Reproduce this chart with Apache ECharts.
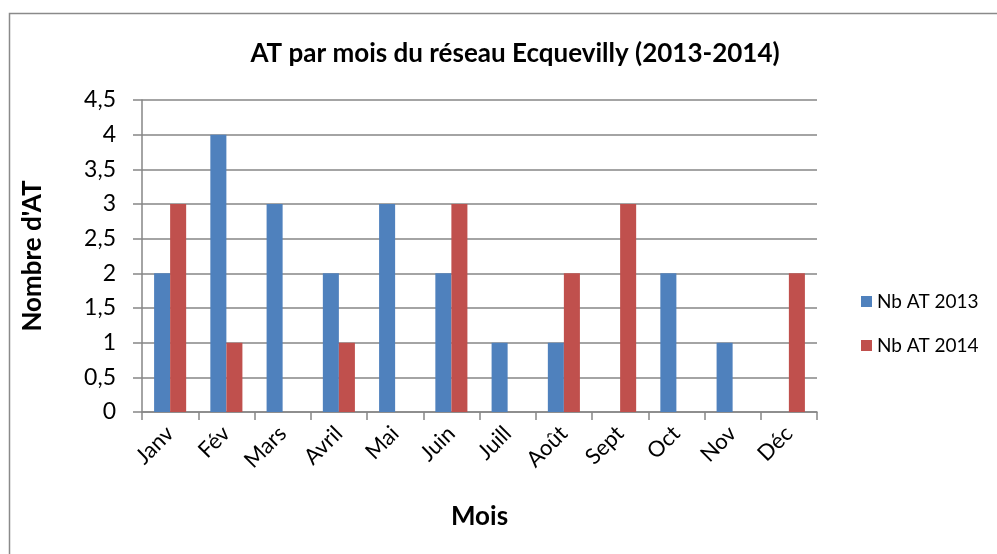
<!DOCTYPE html>
<html><head><meta charset="utf-8">
<script src="https://cdn.jsdelivr.net/npm/echarts@6/dist/echarts.min.js"></script>
<style>html,body{margin:0;padding:0;background:#fff}#c{width:997px;height:554px}</style>
</head><body><div id="c"></div>
<script>
const categories = ['Janv','Fév','Mars','Avril','Mai','Juin','Juill','Août','Sept','Oct','Nov','Déc'];
const nb2013 = [2,4,3,2,3,2,1,1,0,2,1,0];
const nb2014 = [3,1,0,1,0,3,0,2,3,0,0,2];
const seriesNames = ['Nb AT 2013','Nb AT 2014'];
const FONT = 'Lato, "Open Sans", sans-serif';
const chart = echarts.init(document.getElementById('c'));
chart.setOption({
  animation: false,
  color: ['#4F81BD','#C0504D'],
  graphic: [{type:'rect', shape:{x:9.5,y:13.5,width:1000,height:560}, style:{fill:'none', stroke:'#8a8a8a', lineWidth:1.5}, silent:true}],
  title: {text:'AT par mois du réseau Ecquevilly (2013-2014)', left:510, top:36, textAlign:'center',
    textStyle:{fontFamily:FONT, fontWeight:'bold', fontSize:26, color:'#000'}},
  legend: {orient:'vertical', left:856, top:287, itemWidth:11, itemHeight:11, itemGap:25, icon:'rect',
    textStyle:{fontFamily:FONT, fontSize:19, color:'#000'}, data: seriesNames},
  grid: {left:142, right:180, top:100, bottom:142, containLabel:false},
  xAxis: {type:'category', data:categories, name:'Mois', nameLocation:'middle', nameGap:92,
    nameTextStyle:{fontFamily:FONT, fontWeight:'bold', fontSize:26, color:'#000'},
    axisLine:{lineStyle:{color:'#868686', width:1.5}},
    axisTick:{show:true, length:8, lineStyle:{color:'#868686', width:1.5}},
    axisLabel:{rotate:45, fontFamily:FONT, fontSize:22, color:'#000', margin:18}},
  yAxis: {type:'value', min:0, max:4.5, interval:0.5, name:"Nombre d'AT", nameLocation:'middle', nameGap:96,
    nameTextStyle:{fontFamily:FONT, fontWeight:'bold', fontSize:26, color:'#000'},
    axisLine:{show:true, lineStyle:{color:'#868686', width:1.5}},
    axisTick:{show:true, length:9, lineStyle:{color:'#868686', width:1.5}},
    splitLine:{lineStyle:{color:'#868686', width:1.5}},
    axisLabel:{fontFamily:FONT, fontSize:23, color:'#000', margin:26,
      formatter: v => String(v).replace('.', ',')}},
  series: [
    {name:seriesNames[0], type:'bar', data:nb2013, barGap:'0%', barCategoryGap:'43%'},
    {name:seriesNames[1], type:'bar', data:nb2014, barGap:'0%', barCategoryGap:'43%'}
  ]
});
</script></body></html>
